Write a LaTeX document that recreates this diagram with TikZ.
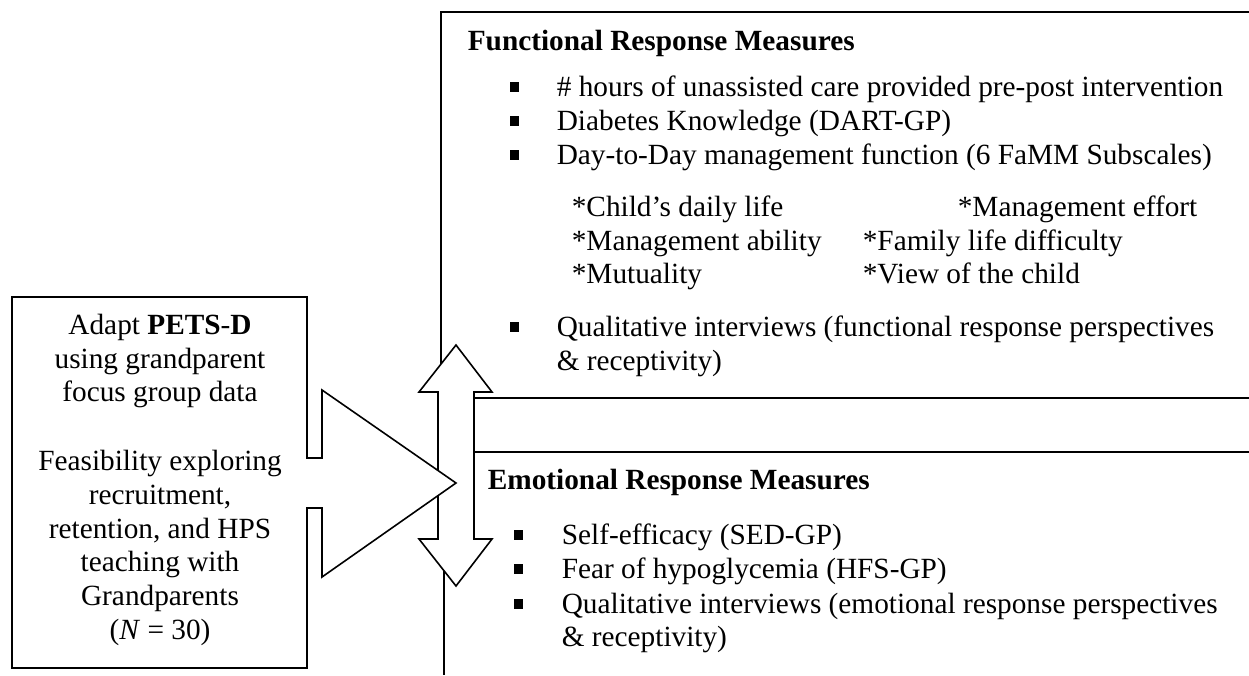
\documentclass[tikz,border=0pt]{standalone}
\usepackage{fontspec}
\setmainfont{Liberation Serif}
\begin{document}
\begin{tikzpicture}[x=1pt,y=-1pt,
  line width=1.6pt, line join=miter,
  txt/.style={inner sep=0pt, anchor=base west, font=\fontsize{29.3}{33.5}\selectfont},
  ctxt/.style={inner sep=0pt, anchor=base, font=\fontsize{29.3}{33.5}\selectfont},
  bul/.style={fill=black, draw=none, inner sep=0pt, minimum width=9pt, minimum height=10pt},
  shapefill/.style={draw=black, fill=white}]
\useasboundingbox (0,0) rectangle (1249,675);
% boxes (open to the right edge)
\draw (1249,12) -- (441,12) -- (441,398) -- (1249,398);
\draw (474,398) -- (474,452);
\draw (1249,452) -- (444,452) -- (444,675);
% double arrow
\draw[shapefill] (456,345) -- (492,392) -- (474,392) -- (474,539) -- (492,539) -- (456,586)
  -- (419,539) -- (438,539) -- (438,392) -- (419,392) -- cycle;
% left callout
\draw[shapefill] (12,297) -- (307,297) -- (307,458) -- (322,458) -- (322,390) -- (456,483)
  -- (322,577) -- (322,508) -- (307,508) -- (307,668) -- (12,668) -- cycle;
% left text
\node[ctxt] (l1) at (160,334) {Adapt \textbf{PETS}-\textbf{D}};
\node[ctxt] (l2) at (160,368) {using grandparent};
\node[ctxt] (l3) at (160,401) {focus group data};
\node[ctxt] (l4) at (160,470) {Feasibility exploring};
\node[ctxt] (l5) at (160,504) {recruitment,};
\node[ctxt] (l6) at (160,538) {retention, and HPS};
\node[ctxt] (l7) at (160,571) {teaching with};
\node[ctxt] (l8) at (160,605) {Grandparents};
\node[ctxt] (l9) at (160,639) {(\textit{N} = 30)};
% functional
\node[txt] (fh) at (467,50) {\textbf{Functional Response Measures}};
\node[txt] (f1) at (556,96) {\# hours of unassisted care provided pre-post intervention};
\node[txt] (f2) at (556,130) {Diabetes Knowledge (DART-GP)};
\node[txt] (f3) at (556,164) {Day-to-Day management function (6 FaMM Subscales)};
\node[txt] (s1) at (571,216) {*Child’s daily life};
\node[txt] (s2) at (957,216) {*Management effort};
\node[txt] (s3) at (571,250) {*Management ability};
\node[txt] (s4) at (862,250) {*Family life difficulty};
\node[txt] (s5) at (571,283) {*Mutuality};
\node[txt] (s6) at (862,283) {*View of the child};
\node[txt] (f4) at (556,336) {Qualitative interviews (functional response perspectives};
\node[txt] (f5) at (556,370) {\& receptivity)};
\node[bul] (b1) at (514.5,87) {};
\node[bul] (b2) at (514.5,121) {};
\node[bul] (b3) at (514.5,155) {};
\node[bul] (b4) at (514.5,327) {};
% emotional
\node[txt] (eh) at (487,489) {\textbf{Emotional Response Measures}};
\node[txt] (e1) at (561,544) {Self-efficacy (SED-GP)};
\node[txt] (e2) at (561,578) {Fear of hypoglycemia (HFS-GP)};
\node[txt] (e3) at (561,613) {Qualitative interviews (emotional response perspectives};
\node[txt] (e4) at (561,646) {\& receptivity)};
\node[bul] (b5) at (518.5,535) {};
\node[bul] (b6) at (518.5,569) {};
\node[bul] (b7) at (518.5,604) {};
\end{tikzpicture}
\end{document}
